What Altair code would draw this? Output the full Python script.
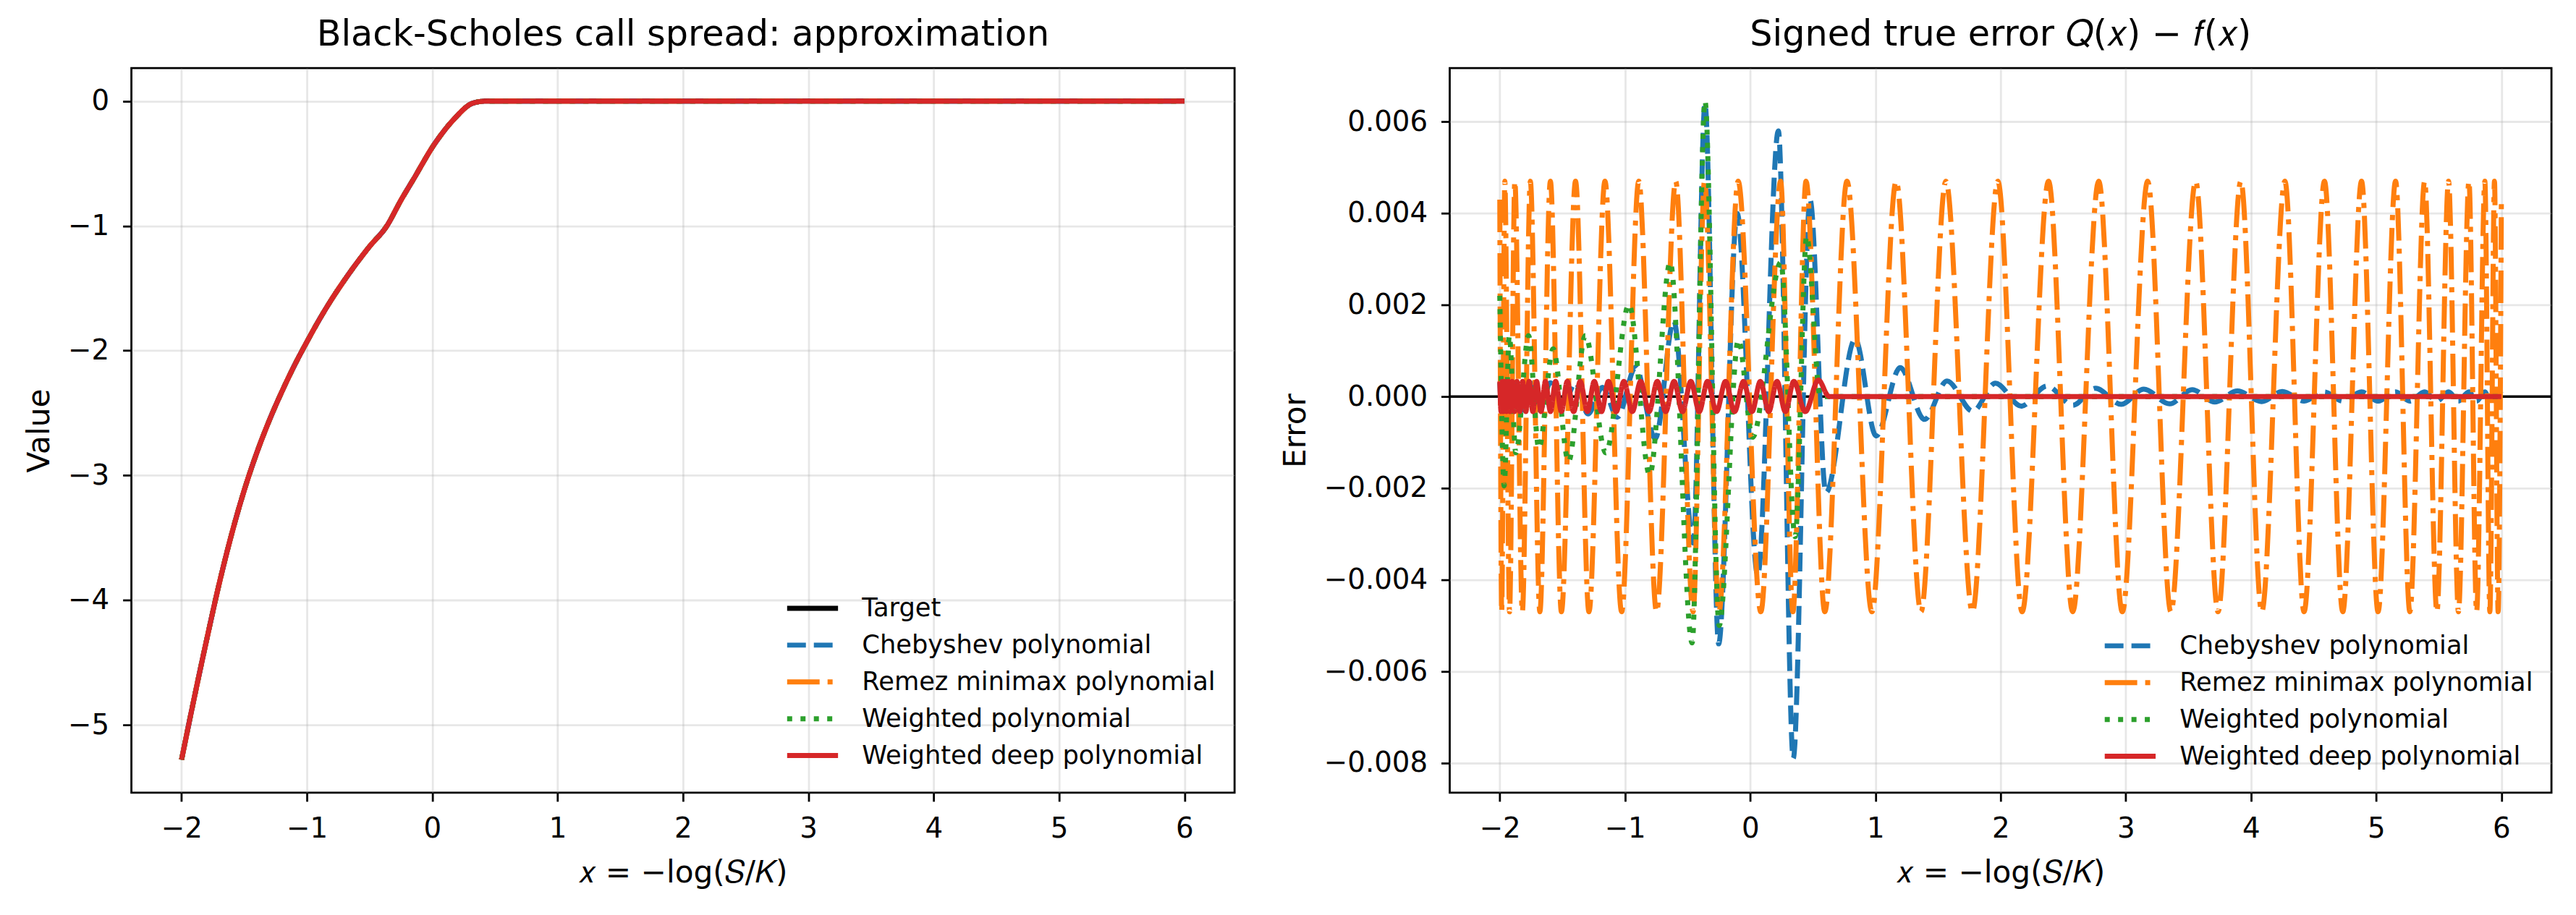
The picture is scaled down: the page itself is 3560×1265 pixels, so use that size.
import altair as alt
import pandas as pd

# ---------------- names / styles ----------------
SERIES_LEFT = ["Target", "Chebyshev polynomial", "Remez minimax polynomial",
               "Weighted polynomial", "Weighted deep polynomial"]
COLORS_LEFT = ["#000000", "#1f77b4", "#ff7f0e", "#2ca02c", "#d62728"]
DASHES_LEFT = [[1, 0], [26, 11], [45, 11, 7, 11], [7, 11.5], [1, 0]]
SERIES_RIGHT = SERIES_LEFT[1:]
COLORS_RIGHT = COLORS_LEFT[1:]
DASHES_RIGHT = DASHES_LEFT[1:]

x_ticks = [-2, -1, 0, 1, 2, 3, 4, 5, 6]
left_y_ticks = [-5, -4, -3, -2, -1, 0]
right_y_ticks = [-0.008, -0.006, -0.004, -0.002, 0.0, 0.002, 0.004, 0.006]

# ---------------- left panel: value curve (all approximations coincide) ----------------
value_x = [-2.0, -1.9, -1.8, -1.7, -1.6, -1.5, -1.4, -1.3, -1.2, -1.1, -1.0,
           -0.9, -0.8, -0.7, -0.6, -0.5, -0.365, -0.247, -0.149, 0.014, 0.178, 0.309, 0.374, 0.44,
           1.0, 2.0, 3.0, 4.0, 5.0, 6.0]
value_y = [-5.28, -4.79, -4.32, -3.87, -3.47, -3.12, -2.82, -2.56, -2.33, -2.12, -1.93,
           -1.75, -1.585, -1.435, -1.295, -1.165, -1.005, -0.79, -0.625, -0.350, -0.140, -0.023, -0.005, 0.0,
           0.0, 0.0, 0.0, 0.0, 0.0, 0.0]

# ---------------- right panel: signed errors ----------------
cheb_x = [-2.0, -1.985, -1.96, -1.922, -1.88, -1.82, -1.756, -1.68, -1.596, -1.508, -1.395,
          -1.296, -1.18, -1.06, -0.915, -0.758, -0.61, -0.454, -0.361, -0.252, -0.104, 0.06,
          0.225, 0.344, 0.478, 0.605, 0.838, 1.006, 1.198, 1.392, 1.572, 1.778, 1.959, 2.165,
          2.371, 2.577, 2.758, 2.964, 3.144, 3.35, 3.53, 3.711, 3.892, 4.085, 4.25, 4.424,
          4.587, 4.733, 4.883, 5.015, 5.155, 5.269, 5.387, 5.485, 5.578, 5.657, 5.741, 5.802,
          5.868, 5.908, 5.945, 5.974, 6.0]
cheb_err = [0.0003, -0.0003, 0.0003, -0.0003, 0.0003, -0.0003, 0.0003, -0.0003, 0.0003, -0.0003, 0.0003,
            -0.00038, 0.0002, -0.00045, 0.00064, -0.00092, 0.00165, -0.0032, 0.0064, -0.0054, 0.0040, -0.0039,
            0.0058, -0.0079, 0.0043, -0.0021, 0.00125, -0.00086, 0.00063, -0.0005, 0.00034, -0.00032, 0.00029, -0.00021,
            0.00023, -0.00019, 0.00018, -0.00017, 0.00016, -0.00016, 0.00015, -0.00012, 0.00012, -0.00011, 0.00011, -0.0001,
            0.0001, -0.0001, 0.0001, -0.0001, 0.0001, -0.0001, 0.0001, -0.0001, 0.0001, -0.0001, 0.0001, -0.0001,
            0.0001, -0.0001, 0.0001, -0.0001, 0.0001]

remez_x = [-2.0, -1.985, -1.96, -1.922, -1.88, -1.82, -1.756, -1.68, -1.596, -1.508, -1.395,
           -1.288, -1.16, -1.027, -0.89, -0.748, -0.595, -0.456, -0.365, -0.25, -0.096, 0.085,
           0.243, 0.341, 0.446, 0.596, 0.773, 0.972, 1.166, 1.364, 1.563, 1.775, 1.978, 2.172,
           2.383, 2.576, 2.784, 2.972, 3.175, 3.36, 3.558, 3.737, 3.919, 4.086, 4.271, 4.424,
           4.587, 4.733, 4.883, 5.015, 5.155, 5.269, 5.387, 5.485, 5.578, 5.657, 5.741, 5.802,
           5.868, 5.908, 5.945, 5.974, 6.0]
remez_err = [0.0043, -0.0047, 0.0047, -0.0047, 0.0047, -0.0047, 0.0047, -0.0047, 0.0047, -0.0047, 0.0047,
             -0.0047, 0.0047, -0.0047, 0.0047, -0.0047, 0.0047, -0.0047, 0.0047, -0.0047, 0.0047, -0.0047,
             0.0047, -0.0047, 0.0047, -0.0047, 0.0047, -0.0047, 0.0047, -0.0047, 0.0047, -0.0047, 0.0047, -0.0047,
             0.0047, -0.0047, 0.0047, -0.0047, 0.0047, -0.0047, 0.0047, -0.0047, 0.0047, -0.0047, 0.0047, -0.0047,
             0.0047, -0.0047, 0.0047, -0.0047, 0.0047, -0.0047, 0.0047, -0.0047, 0.0047, -0.0047, 0.0047, -0.0047,
             0.0047, -0.0047, 0.0047, -0.0047, 0.0043]

weighted_x = [-2.0, -1.965, -1.924, -1.872, -1.77, -1.688, -1.574, -1.451, -1.317, -1.153, -0.968,
              -0.803, -0.639, -0.464, -0.361, -0.248, -0.094, 0.019, 0.245, 0.359, 0.451, 0.56, 6.0]
weighted_err = [0.0022, -0.00195, 0.00133, -0.00123, 0.00133, -0.00113, 0.00104, -0.00142, 0.00133, -0.00123, 0.00201,
                -0.00171, 0.00293, -0.00538, 0.00645, -0.0050, 0.00124, -0.00089, 0.00293, -0.00306, 0.0035, 0.0, 0.0]

deep_x = [-2.0, -1.99, -1.98, -1.97, -1.959, -1.946, -1.933, -1.917, -1.901, -1.882, -1.863,
          -1.84, -1.818, -1.792, -1.766, -1.736, -1.706, -1.671, -1.636, -1.595, -1.554, -1.508,
          -1.461, -1.41, -1.358, -1.30, -1.245, -1.188, -1.132, -1.07, -1.009, -0.942, -0.875,
          -0.808, -0.742, -0.675, -0.608, -0.541, -0.474, -0.407, -0.341, -0.269, -0.197, -0.125,
          -0.053, 0.014, 0.081, 0.148, 0.214, 0.281, 0.348, 0.44, 0.544, 0.63, 6.0]
deep_err = [0.00033, -0.00033, 0.00033, -0.00033, 0.00033, -0.00033, 0.00033, -0.00033, 0.00033, -0.00033, 0.00033,
            -0.00033, 0.00033, -0.00033, 0.00033, -0.00033, 0.00033, -0.00033, 0.00033, -0.00033, 0.00033, -0.00033,
            0.00033, -0.00033, 0.00033, -0.00033, 0.00033, -0.00033, 0.00033, -0.00033, 0.00033, -0.00033, 0.00033,
            -0.00033, 0.00033, -0.00033, 0.00033, -0.00033, 0.00033, -0.00033, 0.00033, -0.00033, 0.00033, -0.00033,
            0.00033, -0.00033, 0.00033, -0.00033, 0.00033, -0.00033, 0.00033, -0.00033, 0.00036, 0.0, 0.0]

zero_line = [0.0]

# ---------------- tables ----------------
left_df = pd.concat([pd.DataFrame({"x": value_x, "y": value_y, "series": s}) for s in SERIES_LEFT],
                    ignore_index=True)
right_df = pd.concat([
    pd.DataFrame({"x": cheb_x, "y": cheb_err, "series": SERIES_RIGHT[0]}),
    pd.DataFrame({"x": remez_x, "y": remez_err, "series": SERIES_RIGHT[1]}),
    pd.DataFrame({"x": weighted_x, "y": weighted_err, "series": SERIES_RIGHT[2]}),
    pd.DataFrame({"x": deep_x, "y": deep_err, "series": SERIES_RIGHT[3]}),
], ignore_index=True)
zero_df = pd.DataFrame({"y": zero_line})

FONT = "DejaVu Sans"
MINUS_INT = "replace(format(datum.value, 'd'), '-', '\u2212')"
MINUS_3F = "replace(format(datum.value, '.3f'), '-', '\u2212')"

x_scale = alt.Scale(domain=[-2.4, 6.4], nice=False, zero=False)
x_axis = alt.Axis(values=x_ticks, title="\U0001D465 = \u2212log(\U0001D446/\U0001D43E)", labelExpr=MINUS_INT)

left_y_scale = alt.Scale(domain=[-5.544, 0.264], nice=False, zero=False)
left_y_axis = alt.Axis(values=left_y_ticks, title="Value", labelExpr=MINUS_INT)
right_y_scale = alt.Scale(domain=[-0.00865, 0.00717], nice=False, zero=False)
right_y_axis = alt.Axis(values=right_y_ticks, title="Error", labelExpr=MINUS_3F)


def make_legend(lx, ly):
    return alt.Legend(title=None, orient="none", legendX=lx, legendY=ly,
                      symbolType="M-1.5,0H1.5", symbolSize=2209, symbolStrokeWidth=7,
                      labelFontSize=35.3, labelFont=FONT, labelColor="black", labelLimit=1000,
                      rowPadding=5, labelOffset=41.5, padding=0, symbolOffset=0)


def series_layers(df, names, colors, dashes, y_scale, y_axis, legend):
    layers = []
    for s in names:
        layers.append(
            alt.Chart(df).transform_filter(alt.datum.series == s)
            .mark_line(interpolate="monotone", strokeWidth=7)
            .encode(
                x=alt.X("x:Q", scale=x_scale, axis=x_axis),
                y=alt.Y("y:Q", scale=y_scale, axis=y_axis),
                color=alt.Color("series:N", scale=alt.Scale(domain=names, range=colors), legend=legend),
                strokeDash=alt.StrokeDash("series:N", scale=alt.Scale(domain=names, range=dashes),
                                          legend=legend),
            )
        )
    return layers


left_legend = make_legend(916.5, 721.5)
right_legend = make_legend(915.5, 773.5)

left = alt.layer(
    *series_layers(left_df, SERIES_LEFT, COLORS_LEFT, DASHES_LEFT, left_y_scale, left_y_axis, left_legend)
).properties(width=1528, height=1004, title="Black-Scholes call spread: approximation")

rule = alt.Chart(zero_df).mark_rule(color="black", strokeWidth=3.5).encode(
    y=alt.Y("y:Q", scale=right_y_scale, axis=right_y_axis)
)
right = alt.layer(
    rule,
    *series_layers(right_df, SERIES_RIGHT, COLORS_RIGHT, DASHES_RIGHT, right_y_scale, right_y_axis, right_legend)
).properties(width=1526, height=1004,
             title="Signed true error \U0001D444(\U0001D465) \u2212 \U0001D453(\U0001D465)")

chart = alt.hconcat(left, right, spacing=60).resolve_scale(
    x="independent", y="independent", color="independent", strokeDash="independent"
).resolve_legend(color="independent", strokeDash="independent").properties(
    padding={"left": 32, "top": 20, "right": 30, "bottom": 0},
    background="white",
).configure_view(
    stroke="black", strokeWidth=2.8
).configure_axis(
    labelFont=FONT, titleFont=FONT, labelFontSize=38.8, titleFontSize=42.3,
    titleFontWeight="normal", labelColor="black", titleColor="black",
    tickSize=12, tickWidth=2.8, tickColor="black", domain=False,
    gridColor="#b0b0b0", gridOpacity=0.3, gridWidth=2.8,
    labelPadding=19, labelFlush=False, labelOverlap=False,
).configure_axisX(
    titlePadding=21
).configure_axisY(
    titlePadding=17
).configure_title(
    font=FONT, fontSize=49.4, fontWeight="normal", color="black",
    offset=21, baseline="alphabetic", anchor="middle"
)

chart.save("out.html", embed_options={"renderer": "svg", "actions": False})
